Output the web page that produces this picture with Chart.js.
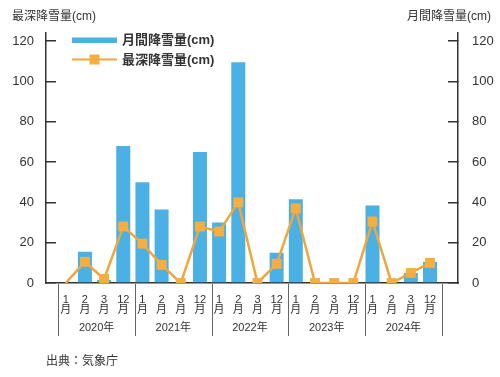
<!DOCTYPE html>
<html><head><meta charset="utf-8">
<script src="https://cdn.jsdelivr.net/npm/chart.js@4"></script>
<style>html,body{margin:0;padding:0;background:#fff}#wrap{width:500px;height:377px;position:relative}</style>
</head><body><div id="wrap"><canvas id="c" width="500" height="377"></canvas></div>
<script>
const years = ['2020年','2021年','2022年','2023年','2024年'];
const months = ['1','2','3','12','1','2','3','12','1','2','3','12','1','2','3','12','1','2','3','12'];
const monthlySnow = [0,15.5,1.5,68, 50,36.5,0,65, 30,109.5,0,15, 41.5,0,0,0, 38.5,0,5,10.5];
const maxDepth = [0,10.5,2,28, 19.5,9,0,28, 25.5,40,0,9.5, 37,0,0,0, 30.5,0,5,10];
const yTicks = [0,20,40,60,80,100,120];
const seriesNames = ['月間降雪量(cm)','最深降雪量(cm)'];

const FONT = "'Liberation Sans','Noto Sans CJK JP',sans-serif";
const TXT = '#333';
const BLUE = '#4BB1E5';
const ORANGE = '#EFA63C';
const ORANGE_PT = '#F6AE40';

const barData = monthlySnow.map((v,i)=>({x:i,y:v}));
const lineData = maxDepth.map((v,i)=>({x:i,y:v}));
const pointRadii = maxDepth.map((v,i)=> i===0 ? 0 : 7);

const decor = {
  id:'decor',
  afterDraw(chart){
    const {ctx, scales:{x}, chartArea} = chart;
    ctx.save();
    ctx.strokeStyle='#666'; ctx.lineWidth=1;
    for(let k=0;k<=years.length;k++){
      const px = Math.round(x.getPixelForValue(k*4-0.39))+0.5;
      ctx.beginPath(); ctx.moveTo(px, chartArea.bottom+1); ctx.lineTo(px, 336); ctx.stroke();
    }
    ctx.font='11px '+FONT; ctx.fillStyle=TXT; ctx.textAlign='center'; ctx.textBaseline='middle';
    years.forEach((yv,k)=>{
      const a=x.getPixelForValue(k*4-0.39), b=x.getPixelForValue(k*4+4-0.39);
      ctx.fillText(yv,(a+b)/2,328);
    });
    ctx.font='12px '+FONT; ctx.textAlign='left';
    ctx.fillText('最深降雪量(cm)',12,17);
    ctx.textAlign='right';
    ctx.fillText('月間降雪量(cm)',491,17);
    ctx.textAlign='left';
    ctx.fillText('出典：気象庁',46,362);
    // legend
    ctx.fillStyle=BLUE; ctx.fillRect(72,37.5,45,5.5);
    ctx.strokeStyle=ORANGE; ctx.lineWidth=2;
    ctx.beginPath(); ctx.moveTo(72,59.5); ctx.lineTo(117,59.5); ctx.stroke();
    ctx.fillStyle=ORANGE_PT; ctx.fillRect(89.5,54.5,10,10);
    ctx.fillStyle=TXT; ctx.font='bold 13px '+FONT; ctx.textAlign='left';
    ctx.fillText(seriesNames[0],122,40.5);
    ctx.fillText(seriesNames[1],122,60);
    ctx.restore();
  }
};

const yCommon = (pos, pad, w) => ({
  type:'linear', position:pos, min:0, max:124,
  afterBuildTicks(s){ s.ticks = yTicks.map(v=>({value:v})); },
  afterFit(s){ s.width = w; },
  grid:{display:true, drawOnChartArea:false, drawTicks:true, tickLength:-10, color:'#333', lineWidth:1.5},
  border:{display:true, color:'#333', width:1.5},
  ticks:{padding:pad, color:TXT, font:{family:FONT,size:13}}
});

new Chart(document.getElementById('c'), {
  data:{
    datasets:[
      {type:'line', label:seriesNames[1], data:lineData, yAxisID:'y', xAxisID:'x', order:0,
       borderColor:ORANGE, borderWidth:2.5, tension:0, pointStyle:'rect', pointRadius:pointRadii,
       pointBackgroundColor:ORANGE_PT, pointBorderWidth:0, pointHoverRadius:pointRadii},
      {type:'bar', label:seriesNames[0], data:barData, yAxisID:'y1', xAxisID:'x', order:1,
       backgroundColor:BLUE, borderWidth:0, categoryPercentage:1, barPercentage:0.73}
    ]
  },
  options:{
    responsive:false, animation:false, devicePixelRatio:1,
    layout:{padding:{top:33,left:0,right:0,bottom:0}},
    plugins:{legend:{display:false}, tooltip:{enabled:false}},
    scales:{
      x:{type:'linear', position:'bottom', min:-1.03, max:20.46, offset:false,
        afterBuildTicks(s){ s.ticks = months.map((m,i)=>({value:i})); },
        afterFit(s){ s.height = 94; },
        grid:{display:false, drawTicks:false, offset:false},
        border:{display:true, color:'#333', width:1.5},
        ticks:{autoSkip:false, maxRotation:0, minRotation:0, padding:12, color:TXT,
          font:{family:FONT,size:11,lineHeight:'10px'},
          callback(v){ const i=Math.round(v); return [months[i],'月']; }}
      },
      y: yCommon('left',22,46),
      y1: yCommon('right',24,42)
    }
  },
  plugins:[decor]
});
</script></body></html>
